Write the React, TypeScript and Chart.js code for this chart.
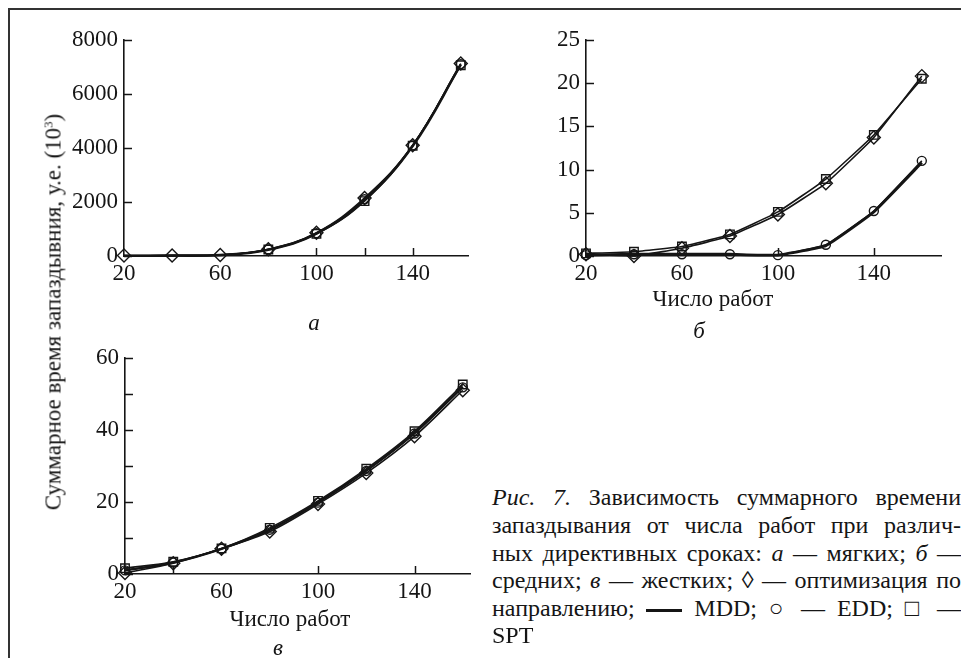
import React, { useEffect, useRef } from 'react';
import { Chart, registerables } from 'chart.js';

Chart.register(...registerables);

// ---------- data ----------
const jobs = [20, 40, 60, 80, 100, 120, 140, 160];
const xTickLabels = [20, 60, 100, 140];

// a — soft due dates (values ×10^3)
const aOpt = [15, 20, 40, 250, 860, 2150, 4100, 7120];
const aMdd = [10, 15, 35, 230, 830, 2080, 4070, 7080];
const aEdd = [10, 15, 35, 240, 840, 2100, 4090, 7100];
const aSpt = [10, 15, 35, 240, 820, 2030, 4080, 7060];
const aYTicks = [0, 2000, 4000, 6000, 8000];

// б — medium due dates
const bOpt = [0.2, 0.0, 0.9, 2.3, 4.8, 8.4, 13.7, 20.8];
const bMdd = [0.1, 0.2, 0.2, 0.2, 0.1, 1.2, 5.1, 10.8];
const bEdd = [0.1, 0.2, 0.2, 0.2, 0.1, 1.3, 5.2, 11.0];
const bSpt = [0.3, 0.5, 1.1, 2.5, 5.1, 8.9, 14.0, 20.5];
const bYTicks = [0, 5, 10, 15, 20, 25];

// в — tight due dates
const cOpt = [0.3, 3.0, 7.0, 11.8, 19.4, 28.0, 38.2, 51.0];
const cMdd = [1.0, 3.2, 7.0, 12.3, 19.9, 28.7, 39.1, 52.0];
const cEdd = [1.0, 3.2, 7.0, 12.3, 19.8, 28.6, 39.0, 51.8];
const cSpt = [1.6, 3.4, 7.1, 12.8, 20.3, 29.2, 39.6, 52.6];
const cYTicks = [0, 20, 40, 60];
const cYMarks = [0, 10, 20, 30, 40, 50, 60];

const INK = '#151515';
const SERIF = '"Liberation Serif", "Times New Roman", "DejaVu Serif", serif';
const FS = 23;

// ---------- inner tick marks plugin ----------
const innerTicks = {
  id: 'innerTicks',
  afterDatasetsDraw(chart: any, _args: any, opts: any) {
    if (!opts || (!opts.xMarks && !opts.yMarks)) return;
    const { ctx } = chart;
    const x = chart.scales.x;
    const y = chart.scales.y;
    ctx.save();
    ctx.strokeStyle = INK;
    ctx.lineWidth = 1.5;
    (opts.yMarks || []).forEach((v: number) => {
      const py = Math.round(y.getPixelForValue(v)) + 0.5;
      ctx.beginPath();
      ctx.moveTo(x.left, py);
      ctx.lineTo(x.left + 8, py);
      ctx.stroke();
    });
    (opts.xMarks || []).forEach((v: number) => {
      const px = Math.round(x.getPixelForValue(v)) + 0.5;
      ctx.beginPath();
      ctx.moveTo(px, y.bottom);
      ctx.lineTo(px, y.bottom - 8);
      ctx.stroke();
    });
    ctx.restore();
  },
};
Chart.register(innerTicks);

type Series = {
  name: string;
  values: number[];
  marker: string | false;
  radius: number | number[];
  width: number;
};

type PanelSpec = {
  series: Series[];
  yMax: number;
  yTicks: number[];
  yMarks: number[];
  xMax: number;
  xMarks: number[];
  tension: number;
  box: { l: number; t: number; w: number; h: number };
  yAxisW: number;
  xAxisH: number;
  padTop: number;
  padRight: number;
};

function buildConfig(p: PanelSpec): any {
  return {
    type: 'line',
    data: {
      datasets: p.series.map((s) => ({
        label: s.name,
        data: jobs.map((x, i) => ({ x, y: s.values[i] })),
        borderColor: INK,
        borderWidth: s.width,
        pointStyle: s.marker || 'circle',
        pointRadius: s.marker ? s.radius : 0,
        pointBorderWidth: 1.4,
        pointBorderColor: INK,
        pointBackgroundColor: 'rgba(255,255,255,0)',
        tension: p.tension,
        fill: false,
        clip: false,
      })),
    },
    options: {
      responsive: false,
      animation: false,
      devicePixelRatio: 1,
      layout: { padding: { top: p.padTop, right: p.padRight, left: 0, bottom: 0 } },
      plugins: {
        legend: { display: false },
        tooltip: { enabled: false },
        innerTicks: { xMarks: p.xMarks, yMarks: p.yMarks },
      },
      scales: {
        x: {
          type: 'linear',
          min: 20,
          max: p.xMax,
          afterBuildTicks: (s: any) => {
            s.ticks = jobs.map((v) => ({ value: v }));
          },
          afterFit: (s: any) => {
            s.height = p.xAxisH;
          },
          grid: { display: false, drawTicks: false },
          border: { display: true, color: INK, width: 1.6 },
          ticks: {
            autoSkip: false,
            maxRotation: 0,
            padding: 4,
            color: INK,
            font: { family: SERIF, size: FS },
            callback: (v: number) => (xTickLabels.includes(v) ? String(v) : ''),
          },
        },
        y: {
          type: 'linear',
          min: 0,
          max: p.yMax,
          afterBuildTicks: (s: any) => {
            s.ticks = p.yTicks.map((v) => ({ value: v }));
          },
          afterFit: (s: any) => {
            s.width = p.yAxisW;
          },
          grid: { display: false, drawTicks: false },
          border: { display: true, color: INK, width: 1.6 },
          ticks: {
            autoSkip: false,
            padding: 6,
            color: INK,
            font: { family: SERIF, size: FS },
            callback: (v: number) => String(v),
          },
        },
      },
    },
  };
}

const hideFirst3 = [0, 0, 0, 6, 6, 6, 6, 6];
const hideFirst3c = [0, 0, 0, 4.5, 4.5, 4.5, 4.5, 4.5];

const panelA: PanelSpec = {
  series: [
    { name: 'Оптимизация по направлению', values: aOpt, marker: 'rectRot', radius: 6.5, width: 1.6 },
    { name: 'MDD', values: aMdd, marker: false, radius: 0, width: 2.6 },
    { name: 'EDD', values: aEdd, marker: 'circle', radius: hideFirst3c, width: 1.6 },
    { name: 'SPT', values: aSpt, marker: 'rect', radius: hideFirst3, width: 1.6 },
  ],
  yMax: 8000,
  yTicks: aYTicks,
  yMarks: aYTicks,
  xMax: 163,
  xMarks: [100, 120, 140],
  tension: 0.4,
  box: { l: 58, t: 20, w: 424, h: 290 },
  yAxisW: 66,
  xAxisH: 54,
  padTop: 17,
  padRight: 14,
};

const panelB: PanelSpec = {
  series: [
    { name: 'Оптимизация по направлению', values: bOpt, marker: 'rectRot', radius: 6.5, width: 1.6 },
    { name: 'MDD', values: bMdd, marker: false, radius: 0, width: 2.8 },
    { name: 'EDD', values: bEdd, marker: 'circle', radius: 4.5, width: 1.6 },
    { name: 'SPT', values: bSpt, marker: 'rect', radius: 6, width: 1.6 },
  ],
  yMax: 25,
  yTicks: bYTicks,
  yMarks: bYTicks,
  xMax: 168,
  xMarks: [100, 140],
  tension: 0.1,
  box: { l: 524, t: 20, w: 430, h: 290 },
  yAxisW: 62,
  xAxisH: 54,
  padTop: 18,
  padRight: 13,
};

const panelC: PanelSpec = {
  series: [
    { name: 'Оптимизация по направлению', values: cOpt, marker: 'rectRot', radius: 6.5, width: 1.6 },
    { name: 'MDD', values: cMdd, marker: false, radius: 0, width: 2.4 },
    { name: 'EDD', values: cEdd, marker: 'circle', radius: 4.5, width: 1.6 },
    { name: 'SPT', values: cSpt, marker: 'rect', radius: 6, width: 1.6 },
  ],
  yMax: 60,
  yTicks: cYTicks,
  yMarks: cYMarks,
  xMax: 163,
  xMarks: [40, 100, 140],
  tension: 0.3,
  box: { l: 63, t: 338, w: 420, h: 290 },
  yAxisW: 62,
  xAxisH: 54,
  padTop: 18,
  padRight: 13,
};

function Panel({ spec }: { spec: PanelSpec }) {
  const ref = useRef<HTMLCanvasElement>(null);
  useEffect(() => {
    const chart = new Chart(ref.current as HTMLCanvasElement, buildConfig(spec));
    return () => chart.destroy();
  }, [spec]);
  const b = spec.box;
  return (
    <canvas
      ref={ref}
      width={b.w}
      height={b.h}
      style={{ position: 'absolute', left: b.l, top: b.t, width: b.w, height: b.h }}
    />
  );
}

const text: React.CSSProperties = {
  position: 'absolute',
  fontFamily: SERIF,
  fontSize: FS,
  color: INK,
  whiteSpace: 'nowrap',
  lineHeight: '27px',
};

function Centered({ x, y, children, italic }: { x: number; y: number; children: React.ReactNode; italic?: boolean }) {
  return (
    <div style={{ ...text, left: x, top: y, transform: 'translate(-50%, -50%)', fontStyle: italic ? 'italic' : 'normal' }}>
      {children}
    </div>
  );
}

const CAP_FS = 24;
const captionLine = (top: number): React.CSSProperties => ({
  ...text,
  fontSize: CAP_FS,
  left: 492,
  width: 469,
  top: top - 14,
  lineHeight: '28px',
  textAlign: 'justify',
  textAlignLast: 'justify',
});

export default function App() {
  return (
    <div style={{ position: 'absolute', left: 0, top: 0, width: 961, height: 658, background: '#fff', overflow: 'hidden' }}>
      {/* frame */}
      <div style={{ position: 'absolute', left: 8, top: 8, width: 1.5, height: 650, background: '#333' }} />
      <div style={{ position: 'absolute', left: 8, top: 8, width: 953, height: 1.5, background: '#333' }} />

      <Panel spec={panelA} />
      <Panel spec={panelB} />
      <Panel spec={panelC} />

      {/* y title */}
      <div
        style={{
          ...text,
          left: 53,
          top: 312,
          transform: 'translate(-50%, -50%) rotate(-90deg)',
        }}
      >
        Суммарное время запаздывния, у.е. (10<sup style={{ fontSize: 13, verticalAlign: '8px', lineHeight: 0 }}>3</sup>)
      </div>

      <Centered x={314} y={322} italic>а</Centered>
      <Centered x={713} y={298}>Число работ</Centered>
      <Centered x={699} y={330} italic>б</Centered>
      <Centered x={290} y={618}>Число работ</Centered>
      <Centered x={278} y={647} italic>в</Centered>

      {/* caption */}
      <div style={captionLine(497)}>
        <i>Рис. 7.</i> Зависимость суммарного времени
      </div>
      <div style={captionLine(525)}>запаздывания от числа работ при различ-</div>
      <div style={captionLine(553)}>
        ных директивных сроках: <i>а</i> — мягких; <i>б</i> —
      </div>
      <div style={captionLine(580)}>
        средних; <i>в</i> — жестких; ◊ — оптимизация по
      </div>
      <div style={captionLine(608)}>
        направлению;{' '}
        <span style={{ display: 'inline-block', width: 36, height: 3, background: INK, verticalAlign: 'middle' }} /> MDD; ○ — EDD; □ —
      </div>
      <div style={{ ...text, fontSize: CAP_FS, left: 492, top: 635 - 14, lineHeight: '28px' }}>SPT</div>
    </div>
  );
}
